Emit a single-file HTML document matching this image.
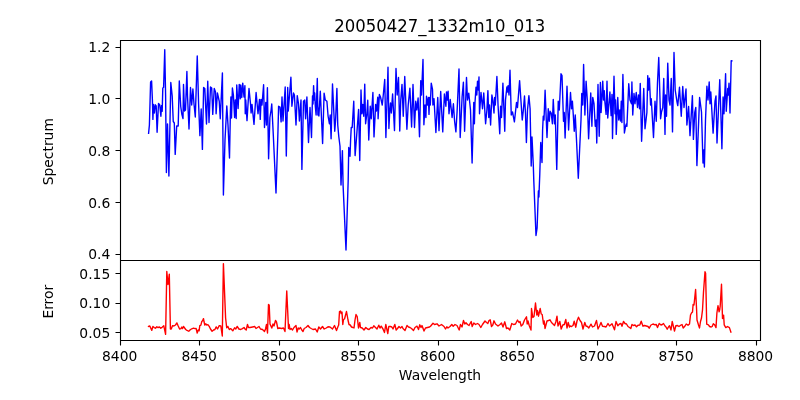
<!DOCTYPE html>
<html><head><meta charset="utf-8"><title>20050427_1332m10_013</title><style>html,body{margin:0;padding:0;background:#fff;width:800px;height:400px;overflow:hidden}svg{display:block;will-change:transform}</style></head><body>
<svg width="800" height="400" viewBox="0 0 800 400">
<defs><clipPath id="c1"><rect x="120" y="40" width="640" height="220"/></clipPath><clipPath id="c2"><rect x="120" y="260" width="640" height="80"/></clipPath></defs>
<rect width="800" height="400" fill="#fff"/>
<path d="M148.60 133.30 L149.40 125.00 L150.60 82.00 L151.60 81.00 L152.40 100.00 L152.90 119.40 L153.50 104.40 L154.40 113.00 L155.30 104.80 L156.20 106.00 L157.10 132.20 L158.50 103.50 L159.70 104.80 L160.90 116.30 L161.50 105.60 L162.20 111.30 L162.80 88.00 L163.60 87.50 L164.75 49.75 L165.60 95.00 L166.40 172.50 L167.50 124.00 L168.90 176.00 L170.80 82.50 L172.20 96.00 L173.25 121.50 L174.30 123.00 L175.20 154.40 L176.70 126.00 L178.20 126.00 L179.30 81.00 L180.75 106.50 L181.80 114.00 L183.00 118.50 L183.50 84.50 L184.50 111.00 L185.50 110.00 L186.90 71.50 L187.50 96.00 L189.00 129.00 L190.50 87.50 L191.70 105.00 L192.90 89.00 L194.00 104.00 L195.30 117.00 L197.25 56.00 L198.60 104.00 L199.90 135.60 L201.20 109.00 L202.40 149.40 L203.60 87.50 L204.80 88.50 L206.50 124.00 L207.75 81.25 L209.00 122.50 L210.50 87.00 L211.70 88.00 L212.75 114.40 L214.25 88.50 L215.50 92.00 L216.10 113.75 L217.40 93.00 L219.25 101.25 L220.25 118.75 L222.40 73.00 L223.40 195.00 L225.00 140.00 L226.80 106.00 L228.00 125.00 L229.50 158.00 L230.40 112.00 L230.90 97.00 L231.50 118.00 L232.40 88.00 L233.40 95.00 L234.60 117.50 L235.30 100.00 L236.20 118.50 L236.75 85.00 L238.10 108.50 L239.25 84.40 L240.25 98.75 L240.75 85.00 L241.75 97.50 L242.75 83.10 L244.00 97.00 L244.90 85.60 L245.25 113.75 L245.75 100.00 L247.00 120.60 L249.00 88.50 L250.50 103.75 L251.10 113.00 L252.00 104.40 L254.00 124.40 L256.10 92.50 L258.00 113.75 L259.50 99.40 L260.25 119.40 L261.10 99.40 L262.00 105.00 L263.60 84.75 L264.50 127.50 L265.75 102.50 L266.50 125.00 L267.40 87.75 L268.60 158.75 L269.90 117.50 L271.10 110.00 L271.75 104.00 L273.30 135.00 L276.00 193.00 L278.00 130.00 L278.60 106.25 L280.00 107.00 L281.10 121.90 L282.00 96.90 L283.00 121.00 L285.20 87.00 L286.30 156.00 L287.70 87.50 L288.30 111.00 L290.90 77.25 L291.90 106.25 L293.50 93.00 L294.40 95.00 L296.00 125.00 L297.25 95.60 L298.50 103.75 L299.40 121.00 L301.00 100.00 L301.90 169.40 L303.50 101.25 L304.75 100.00 L305.60 118.75 L306.90 97.00 L308.50 142.50 L310.00 107.50 L311.50 137.50 L312.50 96.00 L313.00 104.00 L313.60 85.60 L314.20 100.00 L314.70 93.00 L315.30 106.00 L316.10 115.00 L317.30 78.50 L317.90 115.00 L318.30 108.00 L318.90 116.00 L320.30 91.25 L322.60 143.50 L324.10 93.10 L325.30 100.00 L326.90 101.25 L328.10 116.25 L329.40 123.75 L330.20 115.00 L331.10 138.75 L332.50 84.00 L334.75 131.25 L335.60 120.00 L336.90 88.50 L337.75 125.00 L338.75 136.25 L340.00 146.25 L341.00 185.00 L342.40 150.60 L343.10 185.60 L346.00 250.00 L348.20 180.00 L348.75 147.50 L350.00 156.25 L350.60 140.00 L351.25 127.50 L352.20 127.50 L353.75 101.25 L355.10 155.60 L356.50 138.00 L358.60 109.40 L359.75 160.60 L361.00 90.00 L361.90 113.75 L362.75 104.40 L363.75 116.25 L364.75 84.10 L365.60 123.75 L366.90 113.75 L367.75 100.25 L368.75 140.00 L370.25 106.25 L371.25 118.75 L372.90 92.50 L374.00 136.90 L375.25 112.50 L375.60 104.40 L376.50 111.00 L377.75 97.25 L378.10 118.75 L379.40 94.40 L380.50 97.00 L382.25 105.00 L383.00 98.00 L384.75 79.40 L385.90 137.50 L388.00 67.25 L388.90 128.50 L389.75 111.00 L390.50 103.00 L391.30 113.00 L392.60 94.00 L394.50 130.60 L396.00 68.50 L397.20 95.00 L398.50 77.50 L399.75 131.00 L400.75 100.00 L402.00 84.40 L403.25 116.25 L404.75 76.50 L406.90 129.20 L408.20 105.00 L409.90 88.10 L411.60 127.00 L413.00 84.40 L414.50 127.50 L415.75 101.25 L416.80 110.00 L418.10 98.00 L419.50 136.70 L420.75 80.60 L421.50 95.00 L423.00 59.40 L423.90 124.70 L425.00 105.00 L425.90 117.50 L426.50 96.25 L427.50 105.00 L428.40 97.50 L429.00 114.40 L429.60 97.50 L430.30 105.00 L431.25 83.10 L432.50 89.40 L432.90 105.00 L434.00 98.75 L435.90 132.50 L437.75 97.50 L439.00 130.60 L440.70 91.50 L442.75 131.90 L444.40 94.00 L445.90 106.25 L446.50 91.90 L447.30 100.00 L448.10 91.25 L449.00 113.75 L450.25 99.50 L452.10 117.50 L453.40 103.75 L454.60 121.25 L455.90 131.90 L457.10 111.25 L459.00 69.00 L460.20 137.50 L462.10 97.00 L463.40 82.25 L464.60 131.25 L466.50 77.50 L467.50 100.00 L468.75 93.10 L470.50 110.00 L472.10 163.00 L473.75 102.50 L474.40 123.75 L475.00 102.50 L476.00 87.25 L476.80 95.00 L477.50 81.25 L478.30 90.00 L479.00 76.90 L479.50 113.75 L481.00 92.50 L482.50 108.75 L483.75 93.00 L485.60 123.75 L486.90 110.00 L487.90 90.60 L488.75 117.50 L489.50 105.00 L490.60 125.00 L491.90 95.00 L492.80 100.00 L494.00 113.00 L494.60 97.50 L495.30 105.00 L496.90 76.50 L498.10 106.25 L499.75 133.75 L500.60 106.25 L501.50 117.50 L502.90 83.10 L504.75 131.25 L505.50 100.00 L506.90 86.90 L507.50 92.00 L508.10 85.60 L509.00 95.00 L510.00 70.25 L511.25 115.00 L512.50 112.00 L514.40 121.90 L516.50 102.50 L517.50 107.50 L519.60 80.60 L522.25 120.00 L523.25 111.25 L524.50 96.00 L525.50 113.75 L526.40 142.50 L527.50 110.00 L528.90 95.60 L530.10 108.75 L531.20 166.00 L532.00 137.00 L533.30 165.00 L533.80 181.00 L536.00 235.50 L537.10 228.00 L538.40 191.00 L538.90 197.00 L539.75 175.00 L540.75 142.50 L542.00 162.50 L542.60 130.00 L543.25 116.25 L544.00 120.00 L545.10 90.25 L547.00 137.50 L548.25 108.75 L549.25 121.25 L550.10 111.25 L551.20 113.00 L552.40 123.75 L553.25 99.40 L554.50 123.75 L555.30 115.00 L556.75 169.40 L558.25 101.25 L559.30 110.00 L561.00 73.75 L562.00 75.60 L563.50 121.25 L564.25 112.50 L565.10 138.00 L567.00 86.25 L568.60 130.00 L570.50 92.50 L571.50 108.75 L572.40 101.25 L573.30 115.00 L574.25 131.25 L575.25 115.00 L576.50 140.00 L578.30 178.20 L579.60 150.00 L581.00 120.00 L581.75 93.50 L582.75 105.00 L583.60 64.40 L584.90 115.00 L586.10 81.25 L587.30 100.00 L588.60 138.75 L590.75 93.00 L591.90 126.25 L592.75 97.50 L594.00 103.75 L595.25 126.25 L596.20 120.00 L596.75 143.00 L598.00 84.40 L599.20 136.25 L600.40 82.50 L601.10 112.50 L602.75 81.25 L603.50 100.00 L604.25 90.60 L604.80 101.00 L606.10 114.40 L607.00 81.25 L607.75 118.00 L609.90 92.00 L611.10 115.60 L612.00 94.40 L612.50 138.50 L614.00 76.25 L615.00 113.75 L615.60 100.00 L616.25 134.40 L617.75 97.50 L618.75 120.00 L619.80 110.00 L620.50 121.00 L621.25 101.25 L621.90 122.50 L622.90 74.40 L624.40 133.00 L625.60 126.25 L626.30 124.00 L626.90 126.25 L628.75 83.75 L630.00 100.00 L631.50 103.75 L631.90 81.90 L632.75 115.00 L634.00 93.50 L635.00 103.75 L636.25 92.50 L637.50 107.50 L638.50 95.00 L639.50 108.75 L640.25 83.50 L641.60 141.25 L643.75 88.50 L645.00 128.75 L646.90 112.50 L647.75 75.60 L648.50 90.00 L649.40 78.10 L650.60 105.00 L651.25 98.75 L653.50 137.50 L655.00 101.25 L656.25 121.25 L657.50 82.50 L658.75 57.50 L660.60 118.75 L661.50 112.00 L662.75 107.50 L663.75 78.50 L665.00 134.40 L665.60 95.00 L666.50 116.25 L667.75 63.10 L669.00 100.00 L670.00 105.00 L671.25 78.50 L672.50 131.90 L674.00 52.50 L675.20 90.00 L676.90 101.25 L677.75 105.60 L679.50 87.25 L681.25 116.25 L682.75 86.50 L684.00 107.50 L686.00 89.00 L686.90 125.00 L688.60 106.50 L690.00 135.60 L692.40 95.60 L693.40 139.40 L694.75 112.50 L695.80 107.50 L696.90 165.60 L699.60 97.50 L701.50 112.00 L703.00 163.00 L703.60 150.00 L704.40 167.00 L705.50 120.00 L706.90 86.25 L708.00 100.00 L709.20 82.00 L710.00 103.75 L710.80 92.00 L713.10 133.10 L715.00 101.25 L716.00 96.00 L717.00 143.00 L719.75 79.75 L721.00 118.00 L721.90 148.75 L723.10 97.00 L724.00 113.75 L725.60 73.75 L726.25 111.25 L727.75 88.50 L728.30 95.00 L729.00 83.10 L730.00 113.10 L731.20 60.60 L731.90 60.90" fill="none" stroke="#0000ff" stroke-width="1.389" stroke-linejoin="round" stroke-linecap="square" clip-path="url(#c1)"/>
<path d="M148.50 326.40 L149.80 326.00 L151.80 330.40 L152.90 326.40 L154.20 327.60 L155.50 328.20 L156.80 326.70 L158.10 327.60 L159.40 326.90 L160.75 328.20 L162.10 327.30 L163.80 325.80 L165.60 334.30 L166.80 271.50 L168.00 284.50 L169.30 274.20 L170.40 329.00 L171.25 329.00 L172.60 325.60 L173.90 326.00 L175.50 325.00 L176.90 322.90 L178.20 326.00 L179.60 329.00 L180.90 328.60 L181.80 327.00 L182.60 328.60 L183.50 326.40 L185.70 329.50 L187.00 330.40 L188.75 331.25 L190.50 329.50 L192.25 328.60 L193.60 328.20 L194.90 328.60 L196.10 328.40 L197.20 333.00 L198.20 330.00 L199.10 330.80 L199.80 325.60 L200.90 325.10 L201.75 321.60 L202.60 320.75 L203.50 318.60 L204.10 322.00 L204.80 325.10 L205.70 323.80 L206.80 325.00 L207.90 324.70 L209.20 326.40 L210.50 329.00 L212.10 331.25 L213.60 330.00 L214.90 329.50 L216.20 326.90 L217.50 329.00 L219.25 325.60 L220.80 326.00 L222.30 336.00 L223.40 263.60 L225.60 318.00 L226.70 327.75 L227.80 326.40 L229.30 329.50 L230.60 328.60 L232.80 330.80 L234.60 327.75 L235.80 329.00 L237.20 326.40 L238.90 329.00 L240.70 329.50 L242.40 328.60 L244.00 327.50 L245.00 329.00 L246.20 330.00 L247.50 324.50 L248.50 327.50 L250.00 327.50 L252.50 327.00 L254.80 326.50 L256.00 328.50 L257.50 327.50 L259.00 326.50 L260.50 329.00 L262.50 329.50 L264.50 331.50 L265.50 329.00 L266.50 324.50 L267.50 333.00 L268.50 304.50 L269.20 305.00 L270.00 324.00 L271.80 328.00 L273.00 324.00 L274.00 326.00 L275.50 320.50 L276.50 322.00 L277.80 328.50 L279.50 328.00 L281.50 328.50 L283.50 328.00 L285.00 331.50 L286.75 291.00 L288.50 328.50 L289.20 324.50 L290.00 329.50 L291.20 328.50 L292.50 330.00 L294.00 327.50 L296.00 325.50 L297.00 332.00 L298.20 328.00 L299.20 329.00 L300.50 327.50 L301.80 330.00 L303.00 331.50 L304.20 328.50 L306.00 327.50 L308.00 325.50 L309.50 327.50 L311.20 328.50 L313.00 329.50 L315.50 329.00 L317.20 332.00 L318.80 327.00 L320.50 329.00 L322.50 326.50 L324.20 329.00 L326.20 328.00 L328.00 326.80 L330.00 327.00 L332.50 329.00 L334.50 325.50 L336.50 330.50 L338.00 326.50 L338.70 325.00 L339.50 311.50 L340.50 311.00 L341.20 313.50 L342.00 312.00 L342.80 324.50 L343.50 319.50 L344.50 319.00 L346.50 311.50 L348.00 320.00 L349.00 324.50 L350.20 325.00 L351.50 327.00 L353.00 327.50 L354.00 328.00 L355.00 320.00 L356.00 314.50 L357.20 316.50 L358.50 328.00 L359.80 322.50 L360.50 327.50 L362.20 328.00 L364.00 330.00 L365.80 327.50 L367.50 329.00 L369.00 329.50 L371.00 327.50 L372.50 328.00 L373.80 325.80 L375.00 327.00 L377.00 329.00 L378.80 325.20 L380.00 328.00 L381.20 326.20 L383.00 329.00 L384.50 332.50 L385.80 324.50 L386.80 329.00 L387.80 333.50 L388.80 326.50 L390.50 326.50 L391.80 327.00 L393.00 329.00 L394.80 324.50 L396.20 330.00 L397.50 328.50 L399.00 326.50 L400.50 328.00 L402.00 326.50 L403.00 328.50 L405.00 330.50 L407.00 325.50 L408.50 327.00 L410.00 327.50 L411.50 328.50 L413.50 330.50 L415.00 327.50 L417.00 326.20 L418.50 329.50 L419.80 324.80 L421.00 327.50 L422.00 325.50 L424.00 331.00 L425.50 328.00 L427.50 327.50 L429.50 327.00 L430.50 326.20 L433.00 323.20 L434.50 324.50 L437.00 323.80 L439.00 326.00 L441.50 324.50 L444.00 326.50 L445.50 329.00 L446.80 326.80 L448.00 328.00 L450.00 326.50 L451.80 324.50 L453.20 326.20 L455.00 324.50 L457.00 325.50 L459.20 330.00 L460.50 324.50 L462.00 327.00 L463.50 320.50 L464.80 324.00 L466.00 322.80 L467.50 324.50 L469.00 325.50 L471.20 321.50 L472.20 326.50 L473.80 323.00 L475.50 324.50 L477.50 323.50 L479.00 324.50 L480.80 327.50 L482.50 324.50 L485.00 321.00 L486.50 322.50 L487.80 323.50 L489.00 320.50 L490.20 319.80 L491.50 326.50 L492.80 325.00 L494.00 320.80 L495.50 324.00 L498.00 326.00 L500.00 324.50 L501.50 323.00 L503.00 327.00 L504.80 321.80 L506.50 328.50 L508.00 328.00 L509.80 330.00 L511.80 323.50 L513.50 324.50 L515.50 324.00 L517.50 320.00 L519.00 322.50 L520.00 321.50 L521.20 326.00 L522.80 324.50 L524.50 320.00 L526.50 316.80 L527.20 324.00 L528.00 321.00 L529.20 325.50 L531.00 330.00 L531.50 308.50 L532.80 317.50 L534.00 316.50 L535.50 303.00 L536.80 315.00 L537.50 310.50 L538.50 316.20 L540.20 308.50 L541.20 314.00 L542.20 314.50 L543.50 324.00 L544.20 321.00 L545.00 328.50 L547.00 321.00 L548.50 320.50 L550.00 319.80 L551.50 322.50 L553.00 324.00 L554.50 325.50 L555.80 322.00 L557.00 316.20 L558.00 326.00 L559.80 321.50 L561.20 329.00 L562.80 325.00 L564.30 324.50 L565.80 319.50 L567.00 328.00 L568.20 322.50 L569.50 327.00 L570.00 326.00 L571.50 326.50 L573.00 325.50 L574.20 321.20 L575.80 327.20 L577.00 321.00 L578.50 317.20 L580.00 320.50 L581.50 322.50 L583.00 329.00 L584.80 322.50 L586.00 326.00 L587.50 326.50 L588.80 328.00 L591.00 324.20 L592.50 327.00 L594.50 326.00 L596.50 320.50 L598.00 329.00 L599.50 326.00 L601.00 322.50 L602.50 326.20 L604.50 326.50 L606.00 327.00 L608.00 323.50 L609.50 326.00 L612.00 323.80 L614.50 329.80 L616.00 321.50 L617.80 325.80 L619.50 324.00 L621.00 323.50 L622.00 326.20 L623.50 321.50 L625.00 323.50 L626.50 324.00 L628.00 326.50 L629.50 327.50 L630.80 328.50 L632.00 324.50 L633.50 325.50 L635.00 325.00 L636.50 326.80 L638.00 325.20 L639.80 325.00 L641.20 321.20 L643.00 326.20 L644.50 325.50 L646.30 326.00 L648.00 326.50 L649.20 328.20 L651.00 325.00 L653.00 324.00 L655.00 324.80 L656.30 324.50 L657.50 327.50 L659.20 323.50 L661.00 325.00 L662.30 324.50 L663.50 323.50 L665.00 326.00 L666.00 327.00 L667.20 329.20 L668.50 327.00 L669.50 325.80 L671.00 330.00 L672.20 321.50 L674.50 331.00 L675.80 325.80 L677.50 325.50 L679.00 326.50 L681.00 325.00 L682.00 324.50 L683.20 328.00 L685.00 326.00 L686.20 324.00 L688.00 325.20 L689.50 324.00 L690.50 315.00 L691.50 313.00 L692.50 312.00 L693.10 304.50 L694.00 305.00 L695.60 289.50 L696.60 310.00 L697.00 320.00 L698.50 325.00 L699.50 328.00 L700.50 321.50 L701.50 318.00 L702.50 310.00 L703.50 292.00 L705.00 271.75 L705.60 273.25 L706.20 300.00 L706.70 324.20 L708.40 324.80 L709.60 326.50 L711.20 327.00 L712.20 326.50 L713.30 323.70 L714.60 324.80 L716.00 327.60 L716.90 313.00 L718.00 305.70 L719.10 311.90 L719.75 309.50 L720.20 306.20 L721.50 284.25 L722.50 318.60 L723.60 315.20 L724.20 324.80 L725.80 327.60 L727.50 326.50 L729.40 327.60 L730.90 332.00" fill="none" stroke="#ff0000" stroke-width="1.389" stroke-linejoin="round" stroke-linecap="square" clip-path="url(#c2)"/>
<path d="M120.50 40.50 L760.50 40.50 M120.50 40.50 L120.50 260.50 M760.50 40.50 L760.50 260.50 M120.50 260.50 L760.50 260.50 M120.50 260.50 L120.50 340.50 M760.50 260.50 L760.50 340.50 M120.50 340.50 L760.50 340.50" stroke="#000" stroke-width="1.111" stroke-linecap="square" fill="none"/>
<path d="M120.50 340.5 L120.50 345.50 M199.50 340.5 L199.50 345.50 M279.50 340.5 L279.50 345.50 M358.50 340.5 L358.50 345.50 M438.50 340.5 L438.50 345.50 M517.50 340.5 L517.50 345.50 M597.50 340.5 L597.50 345.50 M676.50 340.5 L676.50 345.50 M756.50 340.5 L756.50 345.50 M120.5 254.50 L115.50 254.50 M120.5 202.50 L115.50 202.50 M120.5 150.50 L115.50 150.50 M120.5 98.50 L115.50 98.50 M120.5 47.50 L115.50 47.50 M120.5 332.50 L115.50 332.50 M120.5 303.50 L115.50 303.50 M120.5 273.50 L115.50 273.50" stroke="#000" stroke-width="1.111" fill="none"/>
<g style="font-size:13.889px;font-family:'DejaVu Sans','Liberation Sans',sans-serif" fill="#000">
<text x="119.68" y="361.28" text-anchor="middle">8400</text>
<text x="199.16" y="361.28" text-anchor="middle">8450</text>
<text x="278.64" y="361.28" text-anchor="middle">8500</text>
<text x="358.13" y="361.28" text-anchor="middle">8550</text>
<text x="437.61" y="361.28" text-anchor="middle">8600</text>
<text x="517.09" y="361.28" text-anchor="middle">8650</text>
<text x="596.58" y="361.28" text-anchor="middle">8700</text>
<text x="676.06" y="361.28" text-anchor="middle">8750</text>
<text x="755.54" y="361.28" text-anchor="middle">8800</text>
<text x="110.28" y="259.37" text-anchor="end">0.4</text>
<text x="110.28" y="207.62" text-anchor="end">0.6</text>
<text x="110.28" y="155.87" text-anchor="end">0.8</text>
<text x="110.28" y="104.13" text-anchor="end">1.0</text>
<text x="110.28" y="52.38" text-anchor="end">1.2</text>
<text x="110.28" y="337.98" text-anchor="end">0.05</text>
<text x="110.28" y="308.38" text-anchor="end">0.10</text>
<text x="110.28" y="278.78" text-anchor="end">0.15</text>
<text x="440.00" y="380.17" text-anchor="middle">Wavelength</text>
<text x="53.11" y="151.70" text-anchor="middle" transform="rotate(-90 53.11 151.70)">Spectrum</text>
<text x="53.11" y="301.70" text-anchor="middle" transform="rotate(-90 53.11 301.70)">Error</text>
</g>
<text transform="translate(439.80 31.67) scale(0.990 1.075)" text-anchor="middle" style="font-size:16.667px;font-family:'DejaVu Sans','Liberation Sans',sans-serif" fill="#000">20050427_1332m10_013</text>
</svg>
</body></html>
